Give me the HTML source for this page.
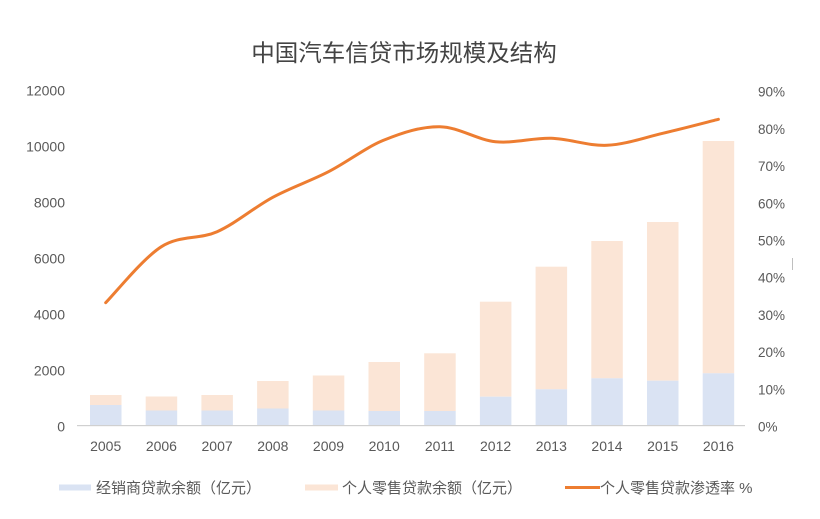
<!DOCTYPE html>
<html>
<head>
<meta charset="utf-8">
<style>
  html,body{margin:0;padding:0;background:#fff;}
  body{width:820px;height:519px;overflow:hidden;}
  svg{display:block;}
  text{font-family:"Liberation Sans","Noto Sans CJK SC",sans-serif;}
</style>
</head>
<body>
<svg width="820" height="519" viewBox="0 0 820 519" xmlns="http://www.w3.org/2000/svg">
  <rect x="0" y="0" width="820" height="519" fill="#ffffff"/>
  <!-- Title -->
  <text x="404" y="61" text-anchor="middle" font-size="23.5" fill="#444444">中国汽车信贷市场规模及结构</text>

  <!-- Left axis labels -->
  <g font-size="14" fill="#595959" text-anchor="end">
    <text x="65" y="431.7">0</text>
    <text x="65" y="375.7">2000</text>
    <text x="65" y="319.7">4000</text>
    <text x="65" y="263.7">6000</text>
    <text x="65" y="207.7">8000</text>
    <text x="65" y="151.7">10000</text>
    <text x="65" y="95.7">12000</text>
  </g>

  <!-- Right axis labels -->
  <g font-size="13.5" fill="#595959" text-anchor="start">
    <text x="758" y="431.5">0%</text>
    <text x="758" y="394.3">10%</text>
    <text x="758" y="357.1">20%</text>
    <text x="758" y="319.9">30%</text>
    <text x="758" y="282.7">40%</text>
    <text x="758" y="245.5">50%</text>
    <text x="758" y="208.3">60%</text>
    <text x="758" y="171.1">70%</text>
    <text x="758" y="133.9">80%</text>
    <text x="758" y="96.7">90%</text>
  </g>

  <!-- small stray marks -->
  <rect x="792" y="258" width="1" height="12" fill="#bfbfbf"/>

  <!-- Bars: blue (dealer) bottom, peach (retail) top -->
  <g>
    <rect x="90" y="395" width="31.5" height="10" fill="#fbe5d6"/>
    <rect x="90" y="405" width="31.5" height="20" fill="#dae3f3"/>

    <rect x="145.7" y="396.5" width="31.5" height="14" fill="#fbe5d6"/>
    <rect x="145.7" y="410.5" width="31.5" height="14.5" fill="#dae3f3"/>

    <rect x="201.4" y="395" width="31.5" height="15.5" fill="#fbe5d6"/>
    <rect x="201.4" y="410.5" width="31.5" height="14.5" fill="#dae3f3"/>

    <rect x="257.1" y="381" width="31.5" height="27.5" fill="#fbe5d6"/>
    <rect x="257.1" y="408.5" width="31.5" height="16.5" fill="#dae3f3"/>

    <rect x="312.8" y="375.5" width="31.5" height="35" fill="#fbe5d6"/>
    <rect x="312.8" y="410.5" width="31.5" height="14.5" fill="#dae3f3"/>

    <rect x="368.5" y="362" width="31.5" height="49" fill="#fbe5d6"/>
    <rect x="368.5" y="411" width="31.5" height="14" fill="#dae3f3"/>

    <rect x="424.2" y="353.3" width="31.5" height="57.7" fill="#fbe5d6"/>
    <rect x="424.2" y="411" width="31.5" height="14" fill="#dae3f3"/>

    <rect x="479.9" y="301.7" width="31.5" height="95" fill="#fbe5d6"/>
    <rect x="479.9" y="396.7" width="31.5" height="28.3" fill="#dae3f3"/>

    <rect x="535.6" y="266.7" width="31.5" height="122.6" fill="#fbe5d6"/>
    <rect x="535.6" y="389.3" width="31.5" height="35.7" fill="#dae3f3"/>

    <rect x="591.3" y="241" width="31.5" height="137.3" fill="#fbe5d6"/>
    <rect x="591.3" y="378.3" width="31.5" height="46.7" fill="#dae3f3"/>

    <rect x="647" y="222" width="31.5" height="158.7" fill="#fbe5d6"/>
    <rect x="647" y="380.7" width="31.5" height="44.3" fill="#dae3f3"/>

    <rect x="702.7" y="141" width="31.5" height="232.3" fill="#fbe5d6"/>
    <rect x="702.7" y="373.3" width="31.5" height="51.7" fill="#dae3f3"/>
  </g>

  <!-- X axis line -->
  <rect x="77" y="425" width="668" height="1.2" fill="#d0d0d0"/>

  <!-- X labels -->
  <g font-size="14" fill="#595959" text-anchor="middle">
    <text x="105.7" y="451">2005</text>
    <text x="161.4" y="451">2006</text>
    <text x="217.1" y="451">2007</text>
    <text x="272.8" y="451">2008</text>
    <text x="328.5" y="451">2009</text>
    <text x="384.2" y="451">2010</text>
    <text x="439.9" y="451">2011</text>
    <text x="495.6" y="451">2012</text>
    <text x="551.3" y="451">2013</text>
    <text x="607.0" y="451">2014</text>
    <text x="662.7" y="451">2015</text>
    <text x="718.4" y="451">2016</text>
  </g>

  <!-- Line -->
  <path fill="none" stroke="#ed7d31" stroke-width="3" stroke-linecap="round" stroke-linejoin="round"
    d="M105.7 302.7
       C115.0 293.4, 142.8 258.5, 161.4 246.7
       C180.0 234.9, 198.5 239.9, 217.1 231.7
       C235.7 223.5, 254.2 207.3, 272.8 197.3
       C291.4 187.3, 309.9 181.3, 328.5 171.7
       C347.1 162.2, 365.6 147.5, 384.2 140
       C402.8 132.5, 421.3 126.4, 439.9 126.7
       C458.5 127.0, 477.0 139.8, 495.6 141.7
       C514.2 143.6, 532.7 137.7, 551.3 138.3
       C569.9 138.9, 588.4 146.1, 607.0 145.3
       C625.6 144.5, 644.1 137.6, 662.7 133.3
       C681.3 129.0, 709.1 121.6, 718.4 119.3"/>

  <!-- Legend -->
  <rect x="59" y="484.5" width="32" height="6" fill="#dae3f3"/>
  <text x="96" y="493" font-size="15" fill="#595959">经销商贷款余额（亿元）</text>

  <rect x="305" y="484.5" width="33" height="6" fill="#fbe5d6"/>
  <text x="342" y="493" font-size="15" fill="#595959">个人零售贷款余额（亿元）</text>

  <rect x="565" y="486" width="35" height="3" fill="#ed7d31"/>
  <text x="600" y="493" font-size="15" fill="#595959">个人零售贷款渗透率 %</text>
</svg>
</body>
</html>
